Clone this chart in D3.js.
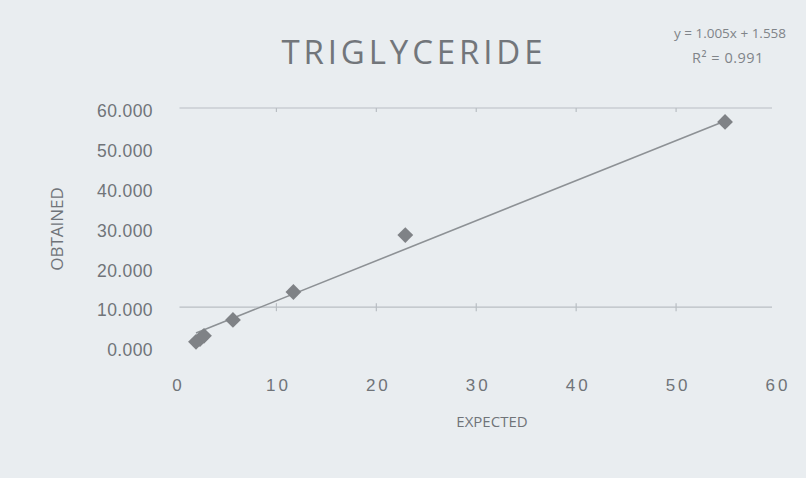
<!DOCTYPE html>
<html>
<head>
<meta charset="utf-8">
<script src="https://cdn.jsdelivr.net/npm/d3@7"></script>
<style>
  html, body { margin: 0; padding: 0; background: #e9edf0; }
  svg { display: block; font-family: 'Open Sans', 'Noto Sans', sans-serif; }
  .axis .domain { display: none; }
  .axis text { fill: #707479; }
</style>
</head>
<body>
<div id="chart"></div>
<script>
// expected vs obtained
const expected = [1.95, 2.35, 2.75, 5.65, 11.7, 22.9, 54.9];
const obtained = [1.3, 2.0, 2.8, 6.8, 13.8, 28.1, 56.5];
const xTicks = [0, 10, 20, 30, 40, 50, 60];
const yTicks = [0, 10, 20, 30, 40, 50, 60];
const gridValues = [10, 60];
const slope = 1.005;
const intercept = 1.558;
const rSquared = 0.991;

const W = 806, H = 478;
const svg = d3.select('#chart').append('svg')
  .attr('width', W)
  .attr('height', H);

svg.append('rect')
  .attr('width', W)
  .attr('height', H)
  .attr('fill', '#e9edf0');

const x = d3.scaleLinear().domain([0, 60]).range([176.5, 776]);
const y = d3.scaleLinear().domain([0, 60]).range([347, 108]);

/* grid lines (only two show in the reference) */
const grid = svg.append('g').attr('class', 'grid');
grid.selectAll('line.h')
  .data(gridValues)
  .enter().append('line')
  .attr('class', 'h')
  .attr('x1', x(0) + 3)
  .attr('x2', x(60) - 4)
  .attr('y1', d => y(d))
  .attr('y2', d => y(d))
  .style('stroke', '#b9bec3')
  .style('stroke-width', 1.2);
gridValues.forEach(g => {
  grid.selectAll(null)
    .data(xTicks.slice(1, -1))
    .enter().append('line')
    .attr('x1', d => x(d))
    .attr('x2', d => x(d))
    .attr('y1', y(g) - (g === 10 ? 4 : 0))
    .attr('y2', y(g) + 4)
    .style('stroke', '#b9bec3')
    .style('stroke-width', 1.2);
});

/* axes */
const xAxis = d3.axisBottom(x)
  .tickValues(xTicks)
  .tickSize(0)
  .tickPadding(0)
  .tickFormat(d3.format('d'));
svg.append('g')
  .attr('class', 'x axis')
  .attr('transform', 'translate(0, 379)')
  .call(xAxis)
  .selectAll('text')
  .attr('dy', '0.71em')
  .attr('dx', '1.5px')
  .style('font-size', '17px')
  .style('letter-spacing', '3px');

const yAxis = d3.axisLeft(y)
  .tickValues(yTicks)
  .tickSize(0)
  .tickPadding(0)
  .tickFormat(d3.format('.3f'));
svg.append('g')
  .attr('class', 'y axis')
  .attr('transform', 'translate(153, 0)')
  .call(yAxis)
  .selectAll('text')
  .attr('dy', '0.5em')
  .style('font-size', '17.5px')
  .style('letter-spacing', '0.4px');

/* trend line */
const xExt = d3.extent(expected);
svg.append('line')
  .attr('x1', x(xExt[0]))
  .attr('y1', y(slope * xExt[0] + intercept))
  .attr('x2', x(xExt[1]))
  .attr('y2', y(slope * xExt[1] + intercept))
  .style('stroke', '#8d9195')
  .style('stroke-width', 1.6);

/* diamond markers */
const diamond = d3.symbol().type(d3.symbolSquare).size(125);
svg.append('g')
  .attr('class', 'points')
  .selectAll('path')
  .data(expected.map((d, i) => ({ x: d, y: obtained[i] })))
  .enter().append('path')
  .attr('d', diamond)
  .attr('transform', d => `translate(${x(d.x)}, ${y(d.y)}) rotate(45)`)
  .style('fill', '#7f8286');

/* titles */
svg.append('text')
  .text('TRIGLYCERIDE')
  .attr('x', 412)
  .attr('y', 64)
  .attr('text-anchor', 'middle')
  .attr('textLength', 261)
  .attr('lengthAdjust', 'spacing')
  .style('font-size', '33px')
  .style('fill', '#72767b');

svg.append('text')
  .text(`y = ${slope}x + ${intercept}`)
  .attr('x', 730)
  .attr('y', 38)
  .attr('text-anchor', 'middle')
  .style('font-size', '13.5px')
  .style('fill', '#808489');
svg.append('text')
  .text(`R² = ${rSquared}`)
  .attr('x', 728)
  .attr('y', 63)
  .attr('text-anchor', 'middle')
  .style('font-size', '14.5px')
  .style('letter-spacing', '0.5px')
  .style('fill', '#808489');

svg.append('text')
  .text('EXPECTED')
  .attr('x', 492)
  .attr('y', 427)
  .attr('text-anchor', 'middle')
  .style('font-size', '15px')
  .style('fill', '#707479');

svg.append('text')
  .text('OBTAINED')
  .attr('transform', 'translate(63, 229) rotate(-90)')
  .attr('text-anchor', 'middle')
  .style('font-size', '17px')
  .style('fill', '#707479');
</script>
</body>
</html>
